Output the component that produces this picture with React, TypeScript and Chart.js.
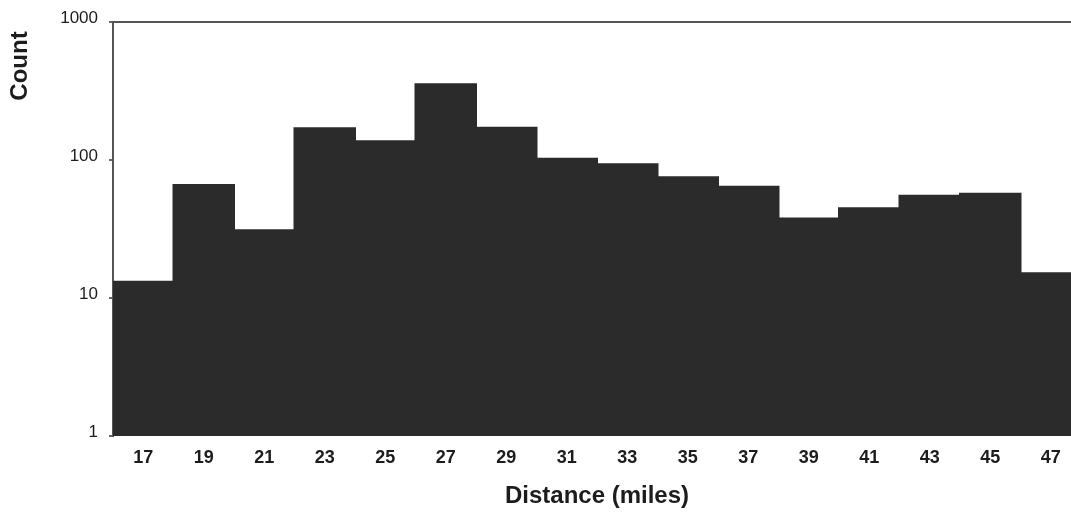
import React, { useEffect, useRef } from "react";
import { Chart, registerables } from "chart.js";

Chart.register(...registerables);

const categories: string[] = ["17", "19", "21", "23", "25", "27", "29", "31", "33", "35", "37", "39", "41", "43", "45", "47"];
const counts: number[] = [13.1, 66, 31, 170, 137, 354, 171, 102, 93, 75, 64, 37.6, 44.7, 55, 57, 15.1];
const yTickValues: number[] = [1, 10, 100, 1000];
const yTitle = "Count";
const xTitle = "Distance (miles)";

const FONT = "'Liberation Sans', Arial, Helvetica, sans-serif";
const INK = "#1c1c1c";

const yTitlePlugin = {
  id: "yTitlePlugin",
  afterDraw(chart: any) {
    const { ctx, chartArea } = chart;
    ctx.save();
    ctx.font = `bold 24px ${FONT}`;
    ctx.fillStyle = INK;
    ctx.textAlign = "center";
    ctx.textBaseline = "middle";
    ctx.translate(20, chartArea.top + 44);
    ctx.rotate(-Math.PI / 2);
    ctx.fillText(yTitle, 0, 0);
    ctx.restore();
  },
};

export default function App() {
  const ref = useRef<HTMLCanvasElement | null>(null);

  useEffect(() => {
    if (!ref.current) return;
    const chart = new Chart(ref.current, {
      type: "bar",
      data: {
        labels: categories,
        datasets: [
          {
            data: counts,
            backgroundColor: "#2b2b2b",
            borderWidth: 0,
            inflateAmount: 1,
            barPercentage: 1,
            categoryPercentage: 1,
          },
        ],
      },
      options: {
        animation: false,
        responsive: false,
        layout: { padding: { top: 22, left: 0, right: 0, bottom: 0 } },
        plugins: { legend: { display: false }, tooltip: { enabled: false } },
        scales: {
          x: {
            type: "category",
            grid: { display: false, drawTicks: false },
            border: { display: false },
            ticks: {
              color: INK,
              font: { family: FONT, size: 18, weight: "bold" },
              padding: 11,
              maxRotation: 0,
              autoSkip: false,
            },
            title: {
              display: true,
              text: xTitle,
              color: INK,
              font: { family: FONT, size: 24, weight: "bold" },
              padding: { top: 0, bottom: 2 },
            },
            afterFit(scale: any) {
              scale.height = 77;
            },
          },
          y: {
            type: "logarithmic",
            min: 1,
            max: 1000,
            afterBuildTicks(scale: any) {
              scale.ticks = yTickValues.map((v) => ({ value: v }));
            },
            afterFit(scale: any) {
              scale.width = 113;
            },
            border: { display: true, color: "#555", width: 2 },
            grid: {
              drawTicks: true,
              tickLength: 4,
              lineWidth: 2,
              color: (c: any) => (c.tick && c.tick.value === 1000 ? "#555" : "rgba(0,0,0,0)"),
              tickColor: "#666",
            },
            ticks: {
              color: INK,
              font: { family: FONT, size: 17 },
              padding: 11,
              labelOffset: -4,
              callback: (v: any) => String(v),
            },
          },
        },
      },
      plugins: [yTitlePlugin],
    });
    return () => chart.destroy();
  }, []);

  return (
    <div
      style={{
        position: "fixed",
        left: 0,
        top: 0,
        width: 1071,
        height: 513,
        overflow: "hidden",
        background: "#fff",
      }}
    >
      <canvas ref={ref} width={1081} height={513} style={{ display: "block" }} />
    </div>
  );
}
